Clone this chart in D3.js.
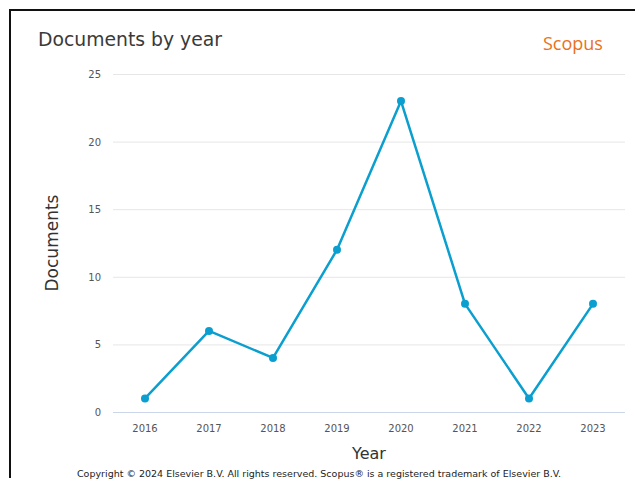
<!DOCTYPE html>
<html>
<head>
<meta charset="utf-8">
<script src="https://cdn.jsdelivr.net/npm/d3@7"></script>
<style>
  html, body { margin: 0; padding: 0; background: #fff; }
  svg { display: block; }
</style>
</head>
<body>
<svg id="chart" width="635" height="483"></svg>
<script>
// Documents published per year
const years = ["2016", "2017", "2018", "2019", "2020", "2021", "2022", "2023"];
const documents = [1, 6, 4, 12, 23, 8, 1, 8];
const yTicks = [0, 5, 10, 15, 20, 25];

const svg = d3.select("#chart");
const W = 635, H = 483;
const font = "'DejaVu Sans', sans-serif";

// frame lines along the top and left
svg.append("line").attr("x1", 9).attr("x2", W).attr("y1", 10).attr("y2", 10)
  .attr("stroke", "#111").attr("stroke-width", 2);
svg.append("line").attr("x1", 10).attr("x2", 10).attr("y1", 9).attr("y2", 478)
  .attr("stroke", "#111").attr("stroke-width", 2);

const plot = { left: 113, right: 625, top: 74, bottom: 412 };

const x = d3.scaleBand().domain(years).range([plot.left, plot.right]);
const y = d3.scaleLinear().domain([0, 25]).range([plot.bottom, plot.top]);

// horizontal grid
svg.append("g").selectAll("line").data(yTicks).join("line")
  .attr("x1", plot.left).attr("x2", plot.right)
  .attr("y1", d => y(d) + 0.5).attr("y2", d => y(d) + 0.5)
  .attr("stroke", d => d === 0 ? "#ccd6eb" : "#e6e6e6")
  .attr("stroke-width", 1);

// y axis labels
const yAxis = d3.axisLeft(y).tickValues(yTicks).tickSize(0).tickPadding(0);
const gy = svg.append("g").attr("transform", `translate(${plot.left - 12},0)`).call(yAxis);
gy.select(".domain").remove();
gy.selectAll("text").attr("font-family", font).attr("font-size", 10)
  .attr("fill", "#555").attr("dy", "0.35em");

// x axis labels
const xAxis = d3.axisBottom(x).tickSize(0).tickPadding(0);
const gx = svg.append("g").attr("transform", `translate(0,${plot.bottom + 13})`).call(xAxis);
gx.select(".domain").remove();
gx.selectAll("text").attr("font-family", font).attr("font-size", 10)
  .attr("fill", "#555").attr("dy", "0.71em");

// series line and markers
const cx = d => x(d) + x.bandwidth() / 2;
const line = d3.line().x((d, i) => cx(years[i])).y(d => y(d));
svg.append("path").datum(documents)
  .attr("d", line).attr("fill", "none")
  .attr("stroke", "#0b9fcf").attr("stroke-width", 2.5)
  .attr("stroke-linejoin", "round");
svg.append("g").selectAll("circle").data(documents).join("circle")
  .attr("cx", (d, i) => cx(years[i])).attr("cy", d => y(d))
  .attr("r", 4).attr("fill", "#0b9fcf");

// titles
svg.append("text").attr("x", 38).attr("y", 46)
  .attr("font-family", font).attr("font-size", 18.8).attr("fill", "#3a3a3a")
  .text("Documents by year");
svg.append("text").attr("x", 543).attr("y", 50)
  .attr("font-family", "'Open Sans', sans-serif").attr("font-size", 18).attr("fill", "#e9711c")
  .text("Scopus");
svg.append("text").attr("x", (plot.left + plot.right) / 2).attr("y", 459)
  .attr("text-anchor", "middle")
  .attr("font-family", font).attr("font-size", 16).attr("fill", "#333")
  .text("Year");
svg.append("text")
  .attr("transform", `translate(58,${(plot.top + plot.bottom) / 2}) rotate(-90)`)
  .attr("text-anchor", "middle")
  .attr("font-family", font).attr("font-size", 17).attr("fill", "#333")
  .text("Documents");
svg.append("text").attr("x", 319).attr("y", 477)
  .attr("text-anchor", "middle")
  .attr("font-family", font).attr("font-size", 9.5).attr("fill", "#222")
  .text("Copyright © 2024 Elsevier B.V. All rights reserved. Scopus® is a registered trademark of Elsevier B.V.");
</script>
</body>
</html>
